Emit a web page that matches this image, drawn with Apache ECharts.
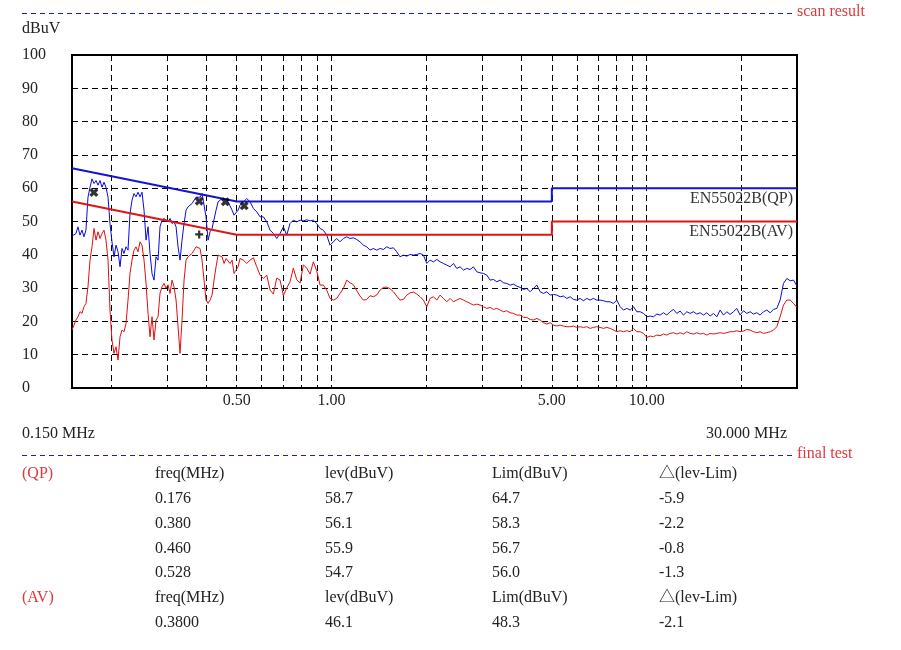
<!DOCTYPE html>
<html>
<head>
<meta charset="utf-8">
<script src="https://cdn.jsdelivr.net/npm/echarts@6/dist/echarts.min.js"></script>
<style>
html, body { margin: 0; padding: 0; background: #fff; }
#main { width: 901px; height: 650px; }
</style>
</head>
<body>
<div id="main"></div>
<script>
// scan frequencies (MHz)
var freq = [
  0.1500, 0.1522, 0.1544, 0.1567, 0.1590, 0.1614, 0.1637, 0.1661, 0.1686, 0.1711,
  0.1736, 0.1762, 0.1788, 0.1814, 0.1841, 0.1868, 0.1895, 0.1923, 0.1952, 0.1980,
  0.2009, 0.2039, 0.2069, 0.2100, 0.2131, 0.2162, 0.2194, 0.2226, 0.2259, 0.2292,
  0.2326, 0.2360, 0.2395, 0.2430, 0.2466, 0.2502, 0.2539, 0.2577, 0.2615, 0.2653,
  0.2692, 0.2732, 0.2772, 0.2813, 0.2854, 0.2896, 0.2939, 0.2982, 0.3026, 0.3071,
  0.3116, 0.3162, 0.3209, 0.3256, 0.3304, 0.3352, 0.3402, 0.3452, 0.3503, 0.3554,
  0.3607, 0.3660, 0.3714, 0.3768, 0.3824, 0.3880, 0.3937, 0.3995, 0.4054, 0.4114,
  0.4175, 0.4236, 0.4298, 0.4362, 0.4426, 0.4491, 0.4557, 0.4625, 0.4693, 0.4762,
  0.4832, 0.4903, 0.4975, 0.5049,
  0.5123, 0.5249, 0.5379, 0.5512, 0.5648, 0.5787, 0.5930, 0.6076, 0.6226, 0.6379,
  0.6535, 0.6696, 0.6861, 0.7030, 0.7204, 0.7381, 0.7563, 0.7750, 0.7941, 0.8137,
  0.8337, 0.8543, 0.8753, 0.8969, 0.9191, 0.9417, 0.9650, 0.9888, 1.0131, 1.0381,
  1.0637, 1.0900, 1.1169, 1.1444, 1.1727, 1.2016, 1.2312, 1.2616, 1.2927, 1.3246,
  1.3573, 1.3908, 1.4251, 1.4602, 1.4963, 1.5332, 1.5710, 1.6098, 1.6495, 1.6902,
  1.7319, 1.7746, 1.8184, 1.8632, 1.9092, 1.9563, 2.0046, 2.0540, 2.1047, 2.1566,
  2.2098, 2.2644, 2.3202, 2.3775, 2.4361, 2.4962, 2.5578, 2.6209, 2.6856, 2.7519,
  2.8198, 2.8893, 2.9606, 3.0337, 3.1085, 3.1852, 3.2638, 3.3443, 3.4268, 3.5114,
  3.5980, 3.6868, 3.7777, 3.8710, 3.9665, 4.0643, 4.1646, 4.2674, 4.3727, 4.4806,
  4.5911, 4.7044, 4.8205, 4.9394, 5.0613, 5.1862, 5.3141, 5.4453, 5.5796, 5.715,
  5.856, 6.000, 6.148, 6.300, 6.455, 6.614, 6.777, 6.944, 7.115, 7.293,
  7.473, 7.657, 7.846, 8.039, 8.238, 8.441, 8.649, 8.862, 9.081, 9.305,
  9.534, 9.769, 10.010, 10.257, 10.510, 10.769, 11.035, 11.307, 11.586, 11.872,
  12.164, 12.464, 12.772, 13.087, 13.410, 13.740, 14.079, 14.426, 14.782, 15.147,
  15.520, 15.903, 16.295, 16.697, 17.109, 17.528, 17.960, 18.403, 18.857, 19.322,
  19.798, 20.287, 20.787, 21.300, 21.825, 22.363, 22.915, 23.480, 24.059, 24.653,
  25.261, 25.884, 26.522, 27.176, 27.847, 28.534, 29.237, 30.000
];

// QP scan (dBuV)
var qpLevel = [
  45.6, 45.2, 46.4, 48.4, 45.9, 47.4, 45.4, 47.4, 57.3, 60.3,
  62.8, 61.4, 62.3, 60.9, 62.3, 60.3, 61.8, 60.3, 57.3, 49.4,
  43.9, 39.4, 42.9, 40.9, 36.4, 41.9, 40.4, 42.4, 41.4, 52.4,
  56.4, 58.4, 57.4, 58.8, 57.4, 58.8, 53.4, 44.4, 48.4, 40.4,
  34.4, 32.4, 39.4, 38.4, 48.4, 50.4, 50.9, 51.4, 49.9, 50.9,
  49.4, 49.9, 48.4, 42.4, 38.4, 44.4, 49.4, 53.4, 54.4, 54.0,
  55.4, 55.9, 57.3, 56.9, 57.3, 58.4, 58.0, 51.4, 44.4, 46.9,
  47.9, 48.4, 53.4, 55.9, 56.4, 56.9, 56.6, 56.9, 55.9, 55.4,
  53.4, 51.9, 51.4, 53.4,
  54.9, 55.9, 56.9, 55.9, 53.9, 52.9, 51.4, 51.4, 49.9, 47.4,
  46.4, 44.9, 46.4, 48.4, 45.9, 49.4, 50.4, 49.9, 50.4, 50.2,
  50.5, 50.2, 50.4, 49.4, 47.9, 47.4, 45.9, 42.9, 43.9, 44.9,
  43.9, 44.9, 45.4, 44.9, 45.1, 44.6, 43.9, 42.9, 42.4, 41.4,
  41.9, 41.4, 41.9, 41.6, 42.4, 41.9, 42.1, 40.9, 39.4, 39.9,
  39.6, 40.1, 39.9, 40.1, 40.4, 39.9, 37.4, 38.4, 37.9, 38.6,
  37.9, 37.4, 36.9, 36.4, 37.4, 35.9, 36.4, 35.4, 35.9, 35.6,
  36.4, 34.9, 34.6, 34.4, 33.9, 32.4, 32.6, 31.9, 32.4, 31.6,
  31.4, 30.9, 31.2, 30.6, 30.2, 29.6, 29.9, 28.9, 29.9, 30.9,
  28.9, 28.4, 28.9, 27.9, 28.1, 27.9, 27.4, 27.6, 26.9, 27.4,
  26.6, 26.4, 26.9, 26.2, 26.9, 26.4, 26.9, 26.4, 26.4, 26.2,
  25.9, 25.9, 25.4, 26.4, 24.4, 23.4, 23.9, 23.4, 24.4, 22.9,
  22.9, 22.4, 21.4, 21.6, 21.4, 22.2, 21.9, 22.6, 21.9, 22.9,
  23.6, 22.4, 23.1, 21.9, 22.9, 22.4, 22.9, 22.2, 22.6, 21.9,
  22.6, 21.6, 22.4, 21.4, 23.4, 21.9, 22.9, 22.1, 22.9, 23.9,
  21.9, 23.2, 22.4, 22.9, 22.2, 22.6, 21.9, 22.9, 23.4, 22.6,
  23.6, 23.9, 26.4, 31.4, 32.9, 32.2, 32.4, 30.6
];

// AV scan (dBuV)
var avLevel = [
  17.4, 18.9, 20.4, 21.4, 22.9, 22.4, 24.4, 25.4, 30.4, 38.4,
  42.4, 47.9, 44.4, 46.9, 44.9, 46.4, 47.4, 44.4, 38.4, 23.4,
  14.4, 10.4, 12.4, 8.4, 15.4, 17.4, 16.9, 19.4, 26.4, 34.4,
  38.4, 41.4, 42.4, 40.9, 43.9, 42.9, 38.4, 31.4, 22.4, 15.4,
  21.4, 14.4, 20.4, 21.4, 28.4, 30.4, 31.4, 30.0, 31.0, 28.4,
  32.4, 30.4, 26.4, 18.4, 10.4, 20.4, 32.4, 38.4, 39.4, 38.9,
  40.4, 40.9, 42.4, 42.9, 41.9, 38.4, 32.4, 26.4, 25.4, 26.4,
  27.9, 32.4, 36.4, 39.9, 40.4, 39.4, 37.4, 38.9, 38.4, 37.4,
  38.4, 34.4, 33.9, 36.4,
  38.9, 38.4, 37.4, 38.4, 39.1, 36.4, 33.9, 32.9, 33.9, 29.4,
  28.2, 33.0, 32.4, 27.8, 30.0, 31.9, 36.0, 32.5, 31.5, 37.0,
  36.0, 34.2, 37.9, 35.2, 30.9, 30.9, 29.4, 26.9, 26.4, 26.9,
  28.4, 29.9, 32.4, 31.6, 31.0, 29.2, 27.6, 26.4, 26.6, 27.7,
  27.4, 27.9, 29.4, 30.2, 30.3, 29.8, 28.9, 27.6, 26.4, 26.6,
  27.9, 28.6, 28.8, 28.2, 27.4, 26.4, 24.4, 26.9, 27.4, 26.4,
  27.9, 26.9, 25.9, 26.9, 25.9, 26.4, 26.9, 26.4, 25.9, 25.4,
  24.9, 25.2, 24.9, 24.4, 23.9, 24.2, 23.6, 23.9, 23.4, 22.9,
  23.2, 22.6, 22.4, 21.9, 21.9, 21.2, 21.2, 20.6, 20.4, 20.9,
  20.4, 19.6, 19.2, 19.6, 18.9, 18.6, 18.9, 18.6, 18.4, 18.4,
  18.6, 18.2, 18.4, 18.2, 18.4, 17.9, 18.2, 18.4, 18.2, 17.9,
  18.2, 17.9, 17.4, 16.9, 17.2, 16.9, 17.2, 16.9, 17.9, 16.9,
  16.9, 16.4, 15.2, 15.6, 15.4, 15.9, 15.7, 16.2, 15.9, 16.4,
  16.6, 16.2, 16.6, 16.2, 16.9, 16.4, 16.2, 16.6, 16.2, 16.4,
  15.9, 16.4, 16.2, 16.4, 16.6, 16.4, 16.6, 16.9, 16.9, 17.2,
  16.9, 17.1, 17.6, 17.4, 16.9, 16.6, 16.9, 16.4, 16.6, 16.9,
  17.4, 18.4, 21.4, 24.9, 26.4, 26.4, 25.4, 24.2
];

// EN55022 class B limits
var qpLimitFreq = [0.15, 0.5, 5, 5, 30];
var qpLimitLevel = [66, 56, 56, 60, 60];
var avLimitFreq = [0.15, 0.5, 5, 5, 30];
var avLimitLevel = [56, 46, 46, 50, 50];

// axis ticks
var xLabelValues = [0.5, 1, 5, 10];
var xGridValues = [0.2, 0.3, 0.4, 0.5, 0.6, 0.7, 0.8, 0.9, 1, 2, 3, 4, 5, 6, 7, 8, 9, 10, 20];

// final test table
var tableHead = ['freq(MHz)', 'lev(dBuV)', 'Lim(dBuV)', '\u25B3(lev-Lim)'];
var qpFinalFreq = ['0.176', '0.380', '0.460', '0.528'];
var qpFinalLev = ['58.7', '56.1', '55.9', '54.7'];
var qpFinalLim = ['64.7', '58.3', '56.7', '56.0'];
var qpFinalDelta = ['-5.9', '-2.2', '-0.8', '-1.3'];
var avFinalFreq = ['0.3800'];
var avFinalLev = ['46.1'];
var avFinalLim = ['48.3'];
var avFinalDelta = ['-2.1'];

var FONT = '"Liberation Serif", "Noto Sans CJK SC", serif';
var TXT = '#222';
var RED = '#e0383c';

function pairs(xs, ys) {
  return xs.map(function (x, i) { return [x, ys[i]]; });
}

// filled x and + glyphs for the final-test markers
var crossPath = 'path://M0,2.6L2.6,0L5,2.4L7.4,0L10,2.6L7.6,5L10,7.4L7.4,10L5,7.6L2.6,10L0,7.4L2.4,5Z';
var plusPath = 'path://M3.6,0H6.4V3.6H10V6.4H6.4V10H3.6V6.4H0V3.6H3.6Z';

function txt(x, y, s, color, align) {
  return {
    type: 'text', x: x, y: y, silent: true,
    style: { text: s, fill: color || TXT, font: '16px ' + FONT, align: align || 'left', verticalAlign: 'middle' }
  };
}

var graphics = [
  { type: 'line', silent: true, shape: { x1: 22, y1: 13.5, x2: 795, y2: 13.5 },
    style: { stroke: '#1c1cc8', lineWidth: 1, lineDash: [5, 4] } },
  txt(797, 12, 'scan result', RED),
  txt(22, 29, 'dBuV'),
  txt(22, 434, '0.150 MHz'),
  txt(787, 434, '30.000 MHz', TXT, 'right'),
  txt(793, 199, 'EN55022B(QP)', '#333', 'right'),
  txt(793, 232, 'EN55022B(AV)', '#333', 'right'),
  { type: 'line', silent: true, shape: { x1: 22, y1: 455.5, x2: 795, y2: 455.5 },
    style: { stroke: '#1c1cc8', lineWidth: 1, lineDash: [5, 4] } },
  txt(797, 454, 'final test', RED)
];

var colX = [155, 325, 492, 659];
var rowY = 474;
function addBlock(tag, cols) {
  graphics.push(txt(22, rowY, tag, RED));
  tableHead.forEach(function (h, c) { graphics.push(txt(colX[c], rowY, h)); });
  rowY += 24.8;
  cols[0].forEach(function (v, r) {
    cols.forEach(function (col, c) { graphics.push(txt(colX[c], rowY, col[r])); });
    rowY += 24.8;
  });
}
addBlock('(QP)', [qpFinalFreq, qpFinalLev, qpFinalLim, qpFinalDelta]);
addBlock('(AV)', [avFinalFreq, avFinalLev, avFinalLim, avFinalDelta]);

var gridLine = { show: true, lineStyle: { color: '#000', width: 1, type: [6, 4] } };

var myChart = echarts.init(document.getElementById('main'));
myChart.setOption({
  animation: false,
  backgroundColor: '#fff',
  grid: { left: 72, right: 104, top: 55, bottom: 262, show: true, borderColor: '#000', borderWidth: 2 },
  xAxis: {
    type: 'log', logBase: 10, min: 0.15, max: 30,
    axisLine: { show: false },
    axisTick: { show: false, customValues: xGridValues },
    splitLine: gridLine,
    axisLabel: {
      customValues: xLabelValues, margin: 5,
      color: TXT, fontFamily: FONT, fontSize: 16,
      formatter: function (v) { return Number(v).toFixed(2); }
    }
  },
  yAxis: {
    type: 'value', min: 0, max: 100, interval: 10,
    axisLine: { show: false },
    axisTick: { show: false },
    splitLine: gridLine,
    axisLabel: { margin: 50, align: 'left', padding: [6, 0, 0, 0], color: TXT, fontFamily: FONT, fontSize: 16 }
  },
  series: [
    { name: 'QP', type: 'line', data: pairs(freq, qpLevel), showSymbol: false, symbol: 'none',
      lineStyle: { color: '#0a0ae0', width: 1 }, z: 3 },
    { name: 'AV', type: 'line', data: pairs(freq, avLevel), showSymbol: false, symbol: 'none',
      lineStyle: { color: '#e01010', width: 1 }, z: 3 },
    { name: 'QP limit', type: 'line', data: pairs(qpLimitFreq, qpLimitLevel), symbol: 'none',
      lineStyle: { color: '#1414d2', width: 2 }, z: 4 },
    { name: 'AV limit', type: 'line', data: pairs(avLimitFreq, avLimitLevel), symbol: 'none',
      lineStyle: { color: '#e01414', width: 2 }, z: 4 },
    { name: 'QP final', type: 'scatter', data: pairs(qpFinalFreq.map(Number), qpFinalLev.map(Number)),
      symbol: crossPath, symbolSize: 9, itemStyle: { color: '#000' }, z: 5 },
    { name: 'AV final', type: 'scatter', data: pairs(avFinalFreq.map(Number), avFinalLev.map(Number)),
      symbol: plusPath, symbolSize: 8, itemStyle: { color: '#000' }, z: 5 }
  ],
  graphic: graphics
});
</script>
</body>
</html>
